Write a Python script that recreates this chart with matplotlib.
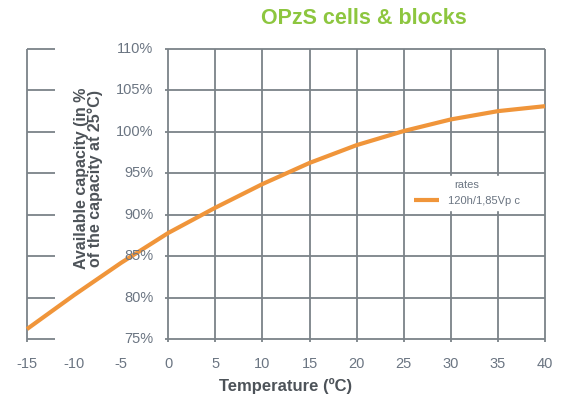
import matplotlib
matplotlib.use("Agg")
import matplotlib.pyplot as plt

temperature = [-15, -10, -5, 0, 5, 10, 15, 20, 25, 30, 35, 40]
capacity = [76.2, 80.3, 84.2, 87.8, 90.85, 93.7, 96.25, 98.4, 100.1, 101.5, 102.5, 103.1]

x_ticks = [-15, -10, -5, 0, 5, 10, 15, 20, 25, 30, 35, 40]
y_ticks = [75, 80, 85, 90, 95, 100, 105, 110]
y_labels = ["75%", "80%", "85%", "90%", "95%", "100%", "105%", "110%"]

grid_col = "#7b8288"
text_col = "#6b7582"
orange = "#f0953a"

plt.rcParams["font.family"] = ["Liberation Sans", "DejaVu Sans"]

fig = plt.figure(figsize=(5.63, 4.01), dpi=100)
ax = fig.add_axes([27 / 563, 62 / 401, 518 / 563, 290 / 401])
ax.set_xlim(-15, 40)
ax.set_ylim(75, 110)
for s in ax.spines.values():
    s.set_visible(False)

# grid on the 0..40 part
ax.vlines([x for x in x_ticks if x >= 0], 74.6, 110, color=grid_col, lw=1.3, clip_on=False, zorder=1)
ax.hlines(y_ticks, -0.3, 40, color=grid_col, lw=1.3, clip_on=False, zorder=1)
# left scale stubs at -15
ax.vlines([-15], 74.6, 110, color=grid_col, lw=1.3, clip_on=False, zorder=1)
ax.hlines(y_ticks, -15, -12, color=grid_col, lw=1.3, clip_on=False, zorder=1)

line, = ax.plot(temperature, capacity, color=orange, lw=3, solid_capstyle="butt",
                solid_joinstyle="round", zorder=3, clip_on=False, label="120h/1,85Vp c")

ax.set_xticks(x_ticks)
ax.set_xticklabels([str(x) for x in x_ticks], color=text_col, fontsize=10.5)
ax.tick_params(axis="x", length=0, pad=13)
ax.set_yticks([])

for y, lab in zip(y_ticks, y_labels):
    ax.text(-1.6, y, lab, ha="right", va="center", color=text_col, fontsize=10.5)

ax.set_xlabel("Temperature (ºC)", fontsize=12, fontweight="bold", color="#4d5359", labelpad=5)
ax.text(-8.5, 94.4, "Available capacity (in %\nof the capacity at 25°C)", rotation=90,
        ha="center", va="center", fontsize=11.5, fontweight="bold", color="#4d5359",
        linespacing=0.9)

fig.text(364 / 563, 1 - 19 / 401, "OPzS cells & blocks", ha="center", va="center",
         fontsize=15.5, fontweight="bold", color="#8dc63f")

leg = ax.legend(handles=[line], title="rates", loc="upper left",
                bbox_to_anchor=(410 / 563, 1 - 176 / 401), bbox_transform=fig.transFigure,
                frameon=True, fancybox=False, fontsize=8, title_fontsize=8,
                handlelength=2.2, borderpad=0.4, borderaxespad=0)
leg.get_frame().set_facecolor("white")
leg.get_frame().set_edgecolor("white")
leg.get_frame().set_alpha(1)
leg.get_title().set_color(text_col)
for t in leg.get_texts():
    t.set_color(text_col)
leg.set_zorder(5)

fig.savefig("out.png", dpi=100)
